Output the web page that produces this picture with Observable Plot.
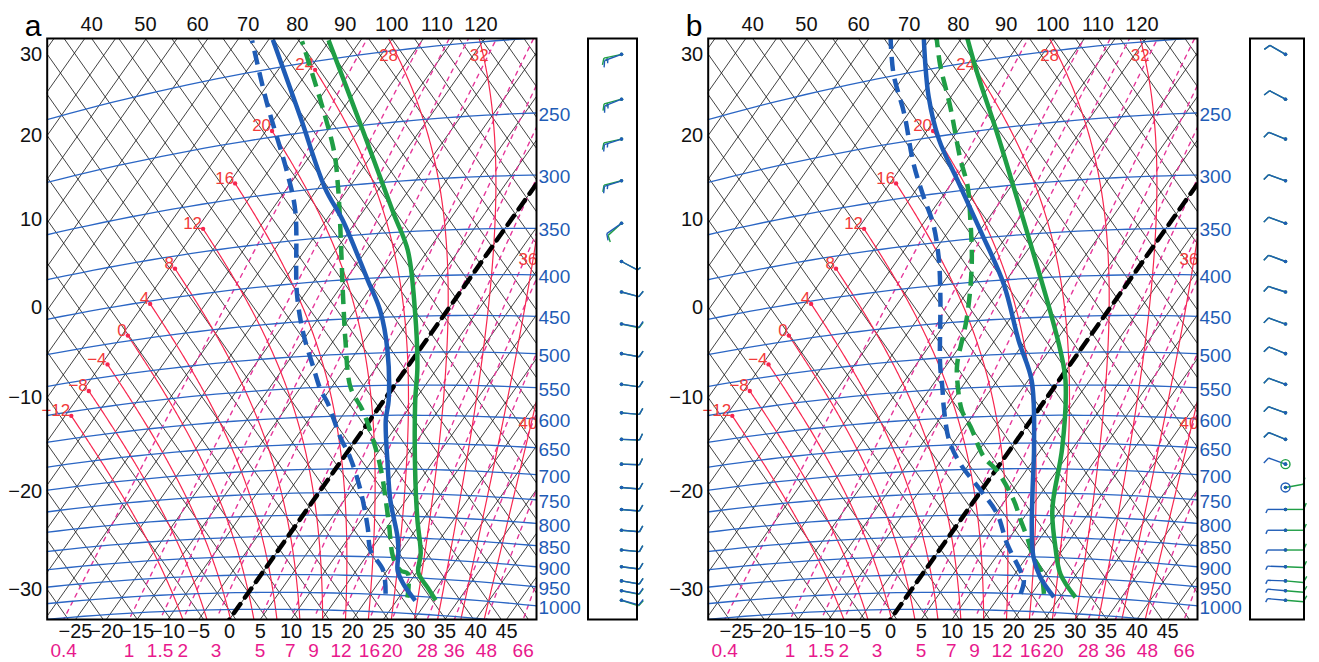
<!DOCTYPE html>
<html><head><meta charset="utf-8">
<script src="https://cdn.jsdelivr.net/npm/d3@7"></script>
<script src="https://cdn.jsdelivr.net/npm/@observablehq/plot@0.6"></script>
<style>
html,body{margin:0;padding:0;background:#fff;}
#wrap{position:relative;width:1319px;height:662px;overflow:hidden;}
#wrap svg{position:absolute;top:0;}
</style></head>
<body><div id="wrap"></div>
<script>
// ================= DATA =================
const panelLetters = ["a", "b"];
const bottomTempTicks = [-25,-20,-15,-10,-5,0,5,10,15,20,25,30,35,40,45];
const leftThetaTicks = [-30,-20,-10,0,10,20,30];
const topThetaTicks = [40,50,60,70,80,90,100,110,120];
const pressureLabels = [250,300,350,400,450,500,550,600,650,700,750,800,850,900,950,1000];
const isobarLevels = [200,250,300,350,400,450,500,550,600,650,700,750,800,850,900,950,1000,1050];
const isothermValues = [-110,-105,-100,-95,-90,-85,-80,-75,-70,-65,-60,-55,-50,-45,-40,-35,-30,-25,-20,-15,-10,-5,0,5,10,15,20,25,30,35,40,45,50,55,60];
const adiabatValues = [-60,-55,-50,-45,-40,-35,-30,-25,-20,-15,-10,-5,0,5,10,15,20,25,30,35,40,45,50,55,60,65,70,75,80,85,90,95,100,105,110,115,120,125,130,135,140,145,150];
const mixingRatios = [0.4,1,1.5,2,3,5,7,9,12,16,20,28,36,48,66];
const wetBulbThetas = [-12,-8,-4,0,4,8,12,16,20,24,28,32,36,40];

// soundings (pressure hPa, temperature degC)
const aTempBlueP = [1012,967,933,890,850,766,689,609,575,497,441,402,334,300,238,182];
const aTempBlueT = [28.0,24.1,21.7,19.9,17.9,12.5,7.8,2.6,0.8,-5.1,-10.9,-16.4,-27.2,-33.9,-45.9,-59.3];
const aDewBlueP  = [997,935,884,828,745,678,639,577,555,518,467,413,319,283,222,180];
const aDewBlueT  = [22.4,19.4,15.0,11.9,6.5,1.1,-2.8,-8.8,-11.4,-15.2,-20.7,-26.3,-36.1,-41.6,-53.3,-62.6];
const aTempGreenP = [1008,974,936,887,809,723,575,523,443,370,330,256,188];
const aTempGreenT = [31.3,28.5,25.3,23.5,19.2,14.3,5.1,1.7,-5.2,-13.3,-19.9,-33.9,-50.2];
const aDewGreenP  = [1005,940,933,900,811,697,640,591,552,480,426,301,265,186];
const aDewGreenT  = [26.4,23.7,22.2,19.5,14.5,7.1,2.4,-2.3,-6.9,-13.1,-18.0,-31.8,-37.2,-54.4];

const bTempBlueP = [1006,953,901,836,745,658,542,481,405,342,293,253,219,179];
const bTempBlueT = [24.0,19.5,16.1,12.8,8.3,3.6,-4.4,-11.1,-20.0,-29.9,-38.8,-47.0,-53.6,-61.3];
const bDewBlueP  = [1000,963,937,869,797,745,688,641,581,546,509,415,367,330,302,270,228,199,175];
const bDewBlueT  = [18.2,17.2,15.5,10.3,5.2,-0.1,-6.5,-11.0,-15.6,-18.2,-21.2,-28.8,-33.6,-38.3,-42.9,-48.4,-55.7,-61.9,-66.7];
const bTempGreenP = [1003,942,874,796,759,658,543,497,442,379,318,252,208,184];
const bTempGreenT = [27.5,22.4,18.5,14.2,12.5,8.2,1.1,-3.2,-9.4,-17.6,-26.8,-38.7,-48.4,-54.2];
const bDewGreenP  = [998,935,901,852,812,767,704,676,618,588,537,511,444,378,327,297,270,229,198,181];
const bDewGreenT  = [22.0,18.8,16.1,12.8,9.8,6.4,0.3,-3.4,-9.0,-12.3,-16.5,-18.4,-22.2,-27.5,-33.1,-37.0,-41.6,-48.9,-55.5,-59.1];

// winds (hPa, direction deg, speed kt)
const windLevels = [210,240,270,305,345,385,420,460,500,545,590,635,680,725,770,815,860,900,935,960,985];
const aWindBlueDir  = [250,248,252,252,235,118,105,100,100,98,95,92,92,95,95,95,95,97,100,100,105];
const aWindBlueSpd  = [15,15,15,15,10,5,10,10,10,10,10,10,10,10,10,10,10,10,10,10,10];
const aWindGreenDir = [258,255,258,256,228,118,105,102,100,98,95,92,92,95,95,95,95,97,100,102,108];
const aWindGreenSpd = [15,15,10,10,10,5,10,10,10,10,10,10,10,10,10,10,10,10,10,10,10];
const bWindBlueDir  = [300,298,292,290,290,290,288,290,292,290,290,292,290,0,270,270,270,272,272,275,275];
const bWindBlueSpd  = [10,10,10,10,10,10,10,10,10,10,10,10,10,0,5,5,5,5,5,5,5];
const bWindGreenDir = [300,298,292,290,290,290,288,290,292,290,290,292,0,80,90,90,90,92,95,95,95];
const bWindGreenSpd = [10,10,10,10,10,10,10,10,10,10,10,10,0,10,10,10,10,10,10,10,10];

// ================= STYLE =================
const FONT = "'Liberation Sans', Arial, Helvetica, sans-serif";
const BLUE = "#1f5cb6", GREEN = "#1f9e45", ISOBAR = "#2b66c4", RED = "#f7264f", REDTXT = "#f23a3a", MAG = "#e5379a", MAGTXT = "#e8198c";

// ================= DIAGRAM GEOMETRY (tephigram) =================
const K = 0.2857;
const T_BL = -29.6, A = 79.47, B = 66.5;      // temperature frame
const L_BL = 5.4813, C = 0.28595, D = 0.2394; // ln(theta) frame
const DET = A * D + B * C;
const uvFromTL = (T, L) => [((T - T_BL) * D + B * (L - L_BL)) / DET, (A * (L - L_BL) - C * (T - T_BL)) / DET];
const TLfromUV = (u, v) => [T_BL + A * u - B * v, L_BL + C * u + D * v];
const xOf = u => T_BL + A * u;
const yOf = v => Math.exp(L_BL + D * v);
const ptTL = (T, L, extra = {}) => { const [u, v] = uvFromTL(T, L); return {x: xOf(u), y: yOf(v), u, v, ...extra}; };
const ptTP = (T, p, extra = {}) => ptTL(T, Math.log((T + 273.15) * Math.pow(1000 / p, K)), extra);
const pAt = (u, v) => { const [T, L] = TLfromUV(u, v); return 1000 * Math.exp((Math.log(T + 273.15) - L) / K); };
function bisect(f, a, b) { let fa = f(a); for (let i = 0; i < 60; i++) { const m = (a + b) / 2, fm = f(m); if ((fm > 0) === (fa > 0)) { a = m; fa = fm; } else b = m; } return (a + b) / 2; }
const rightV = p => bisect(v => Math.log(pAt(1, v) / p), -0.3, 1.3);
const es = T => 6.112 * Math.exp(17.67 * T / (T + 243.5));
const Td = (r, p) => { const e = p * r / 622; const a = Math.log(e / 6.112); return 243.5 * a / (17.67 - a); };
const fmt = d => d < 0 ? "\u2212" + Math.abs(d) : String(d);
const T_END = -49;

function dTdp(T, p) {
  const Tk = T + 273.15, e = es(T), rs = 0.622 * e / (p - e);
  const Rd = 287.04, cp = 1005.7, Lv = 2.501e6;
  return (1 / p) * (Rd * Tk + Lv * rs) / (cp + (Lv * Lv * rs * 0.622) / (Rd * Tk * Tk));
}
function moistPath(thw) {
  const step = (T, p, h) => { const k1 = dTdp(T, p), k2 = dTdp(T + h / 2 * k1, p + h / 2), k3 = dTdp(T + h / 2 * k2, p + h / 2), k4 = dTdp(T + h * k3, p + h); return T + h / 6 * (k1 + 2 * k2 + 2 * k3 + k4); };
  const down = []; let T = thw, p = 1000;
  while (p < 1100) { T = step(T, p, 2); p += 2; down.push([p, T]); }
  const up = [[1000, thw]]; T = thw; p = 1000;
  while (p > 100) { const T2 = step(T, p, -2); if (T2 < T_END) { const f = (T - T_END) / (T - T2); up.push([p - 2 * f, T_END]); break; } T = T2; p -= 2; up.push([p, T]); }
  return down.reverse().concat(up);
}

function backgroundMarks() {
  const Lmin = L_BL - 0.4, Lmax = L_BL + C + D + 0.4;
  const isoT = isothermValues.flatMap(T => [ptTL(T, Lmin, {id: T}), ptTL(T, Lmax, {id: T})]);
  const adi = adiabatValues.flatMap(th => [ptTL(-140, Math.log(th + 273.15), {id: th}), ptTL(80, Math.log(th + 273.15), {id: th})]);
  const isoP = isobarLevels.flatMap(p => d3.range(-110, 62, 2).map(T => ptTP(T, p, {id: p})));
  const mix = mixingRatios.flatMap(r => d3.range(1060, 140, -10).map(p => ptTP(Td(r, p), p, {id: r})));
  const moist = [], ends = [], labels = [];
  wetBulbThetas.forEach(thw => {
    const pts = moistPath(thw).map(([p, T]) => ptTP(T, p, {id: thw}));
    moist.push(...pts);
    let exit = null, entered = false;
    for (let i = 0; i < pts.length - 1; i++) {
      const a = pts[i], b = pts[i + 1];
      if (a.v >= 0 && a.u >= 0) entered = true;
      if (entered && a.u <= 1 && a.v <= 1 && (b.u > 1 || b.v > 1)) {
        const fu = b.u > 1 ? (1 - a.u) / (b.u - a.u) : 2, fv = b.v > 1 ? (1 - a.v) / (b.v - a.v) : 2;
        const f = Math.min(fu, fv);
        exit = {x: a.x + (b.x - a.x) * f, u: a.u + (b.u - a.u) * f, v: a.v + (b.v - a.v) * f, edge: fu < fv ? "right" : "top"};
        exit.y = yOf(exit.v);
        break;
      }
    }
    const end = pts[pts.length - 1];
    if (!exit) { ends.push(end); labels.push({...end, t: fmt(thw), kind: "end"}); }
    else labels.push({...exit, t: fmt(thw), kind: exit.edge});
  });
  return [
    Plot.line(isoT, {x: "x", y: "y", z: "id", stroke: "#111", strokeWidth: 0.8, clip: true}),
    Plot.line(adi, {x: "x", y: "y", z: "id", stroke: "#111", strokeWidth: 0.8, clip: true}),
    Plot.line(mix, {x: "x", y: "y", z: "id", stroke: MAG, strokeWidth: 1.4, strokeDasharray: "4,5", clip: true}),
    Plot.line(moist, {x: "x", y: "y", z: "id", stroke: RED, strokeWidth: 1.2, clip: true}),
    Plot.line(isoP, {x: "x", y: "y", z: "id", stroke: ISOBAR, strokeWidth: 1.3, clip: true}),
    Plot.dot(ends, {x: "x", y: "y", r: 2.2, fill: RED, stroke: "none"}),
    Plot.text(labels.filter(d => d.kind === "end"), {x: "x", y: "y", text: "t", fill: REDTXT, fontSize: 17, textAnchor: "end", dx: -1, dy: -5}),
    Plot.text(labels.filter(d => d.kind === "top"), {x: "x", y: "y", text: "t", fill: REDTXT, fontSize: 17, textAnchor: "middle", dy: 17}),
    Plot.text(labels.filter(d => d.kind === "right"), {x: "x", y: "y", text: "t", fill: REDTXT, fontSize: 17, textAnchor: "end", dx: 1, dy: 22})
  ];
}

function profileLine(P, T, color, dashed) {
  const data = P.map((p, i) => ptTP(T[i], p));
  return Plot.line(data, {x: "x", y: "y", stroke: color, strokeWidth: 4.5, curve: "catmull-rom", clip: true,
    strokeDasharray: dashed ? "14,8" : null, strokeLinecap: "butt", strokeLinejoin: "round"});
}

function skewPanel(letter, prof) {
  const zero = [ptTL(0, L_BL - 0.4), ptTL(0, L_BL + C + D + 0.4)];
  const topLab = topThetaTicks.map(th => ({t: String(th), x: xOf((Math.log(th + 273.15) - L_BL - D) / C)}));
  const rightLab = pressureLabels.map(p => ({t: String(p), y: yOf(rightV(p))}));
  const mixLab = mixingRatios.map(r => ({t: String(r), x: xOf(bisect(u => Td(r, pAt(u, 0)) - TLfromUV(u, 0)[0], -0.3, 1.3))}));
  return Plot.plot({
    width: 585, height: 662, marginLeft: 46.7, marginRight: 49, marginTop: 38, marginBottom: 43,
    style: {fontFamily: FONT, background: "transparent", overflow: "visible"},
    x: {domain: [T_BL, T_BL + A], axis: null},
    y: {type: "log", domain: [yOf(0), yOf(1)], axis: null},
    marks: [
      ...backgroundMarks(),
      Plot.line(zero, {x: "x", y: "y", stroke: "#000", strokeWidth: 4.5, strokeDasharray: "11,8", clip: true}),
      profileLine(prof.dbP, prof.dbT, BLUE, true),
      profileLine(prof.dgP, prof.dgT, GREEN, true),
      profileLine(prof.tbP, prof.tbT, BLUE, false),
      profileLine(prof.tgP, prof.tgT, GREEN, false),
      Plot.frame({stroke: "#000", strokeWidth: 2}),
      Plot.text(bottomTempTicks, {x: d => d, frameAnchor: "bottom", text: fmt, fontSize: 20, fill: "#111", lineAnchor: "top", dy: 4}),
      Plot.text(mixLab, {x: "x", frameAnchor: "bottom", text: "t", fontSize: 19, fill: MAGTXT, lineAnchor: "top", dy: 24}),
      Plot.text(leftThetaTicks, {y: d => d + 273.15, frameAnchor: "left", text: fmt, fontSize: 20, fill: "#111", textAnchor: "end", dx: -5}),
      Plot.text(topLab, {x: "x", frameAnchor: "top", text: "t", fontSize: 20, fill: "#111", lineAnchor: "bottom", dy: -8}),
      Plot.text(rightLab, {y: "y", frameAnchor: "right", text: "t", fontSize: 19, fill: BLUE, textAnchor: "start", dx: 2, dy: 2}),
      Plot.text([letter], {frameAnchor: "top-left", text: d => d, fontSize: 30, fill: "#000", textAnchor: "middle", dx: -14, dy: -24})
    ]
  });
}

function windPanel(cfg) {
  const frameW = cfg.width - 15, H = 581;
  const links = [], dots = [], circles = [];
  windLevels.forEach((p, i) => {
    const v = rightV(p);
    [[cfg.gd[i], cfg.gs[i], GREEN], [cfg.bd[i], cfg.bs[i], BLUE]].forEach(([dir, spd, col]) => {
      const s0 = cfg.station;
      if (spd === 0) { circles.push({x: s0, y: v, col}); dots.push({x: s0, y: v, col}); return; }
      const rad = dir * Math.PI / 180, sx = Math.sin(rad), sy = -Math.cos(rad);
      const nx = sy, ny = -sx;
      const toD = (px, py) => [s0 + px / frameW, v - py / H];
      const len = 18;
      const [x2, y2] = toD(sx * len, sy * len);
      links.push({x1: s0, y1: v, x2, y2, col});
      let pos = len;
      const full = Math.floor(spd / 10), half = Math.round((spd % 10) / 5);
      for (let k = 0; k < full; k++) {
        const [a1, b1] = toD(sx * pos, sy * pos);
        const [a2, b2] = toD(sx * pos + 7 * (0.9 * nx + 0.4 * sx), sy * pos + 7 * (0.9 * ny + 0.4 * sy));
        links.push({x1: a1, y1: b1, x2: a2, y2: b2, col}); pos -= 3.5;
      }
      if (half) {
        const [a1, b1] = toD(sx * pos, sy * pos);
        const [a2, b2] = toD(sx * pos + 4 * (0.9 * nx + 0.4 * sx), sy * pos + 4 * (0.9 * ny + 0.4 * sy));
        links.push({x1: a1, y1: b1, x2: a2, y2: b2, col});
      }
      dots.push({x: s0, y: v, col});
    });
  });
  return Plot.plot({
    width: cfg.width, height: 662, marginLeft: 7.5, marginRight: 7.5, marginTop: 38, marginBottom: 43,
    style: {fontFamily: FONT, background: "transparent"},
    x: {domain: [0, 1], axis: null}, y: {domain: [0, 1], axis: null},
    marks: [
      Plot.link(links, {x1: "x1", y1: "y1", x2: "x2", y2: "y2", stroke: "col", strokeWidth: 1.4}),
      Plot.dot(circles, {x: "x", y: "y", r: 4.5, stroke: "col", fill: "none", strokeWidth: 1.4}),
      Plot.dot(dots, {x: "x", y: "y", r: 1.8, fill: "col", stroke: "none"}),
      Plot.frame({stroke: "#000", strokeWidth: 2})
    ]
  });
}

const wrap = document.getElementById("wrap");
function place(svg, left) { svg.style.left = left + "px"; wrap.appendChild(svg); }
place(skewPanel("a", {tbP: aTempBlueP, tbT: aTempBlueT, dbP: aDewBlueP, dbT: aDewBlueT, tgP: aTempGreenP, tgT: aTempGreenT, dgP: aDewGreenP, dgT: aDewGreenT}), 0);
place(skewPanel("b", {tbP: bTempBlueP, tbT: bTempBlueT, dbP: bDewBlueP, dbT: bDewBlueT, tgP: bTempGreenP, tgT: bTempGreenT, dgP: bDewGreenP, dgT: bDewGreenT}), 661);
place(windPanel({width: 64, station: (621 - 587.5) / 49, bd: aWindBlueDir, bs: aWindBlueSpd, gd: aWindGreenDir, gs: aWindGreenSpd}), 580);
place(windPanel({width: 69, station: (1285 - 1249.5) / 54, bd: bWindBlueDir, bs: bWindBlueSpd, gd: bWindGreenDir, gs: bWindGreenSpd}), 1242);
</script></body></html>
